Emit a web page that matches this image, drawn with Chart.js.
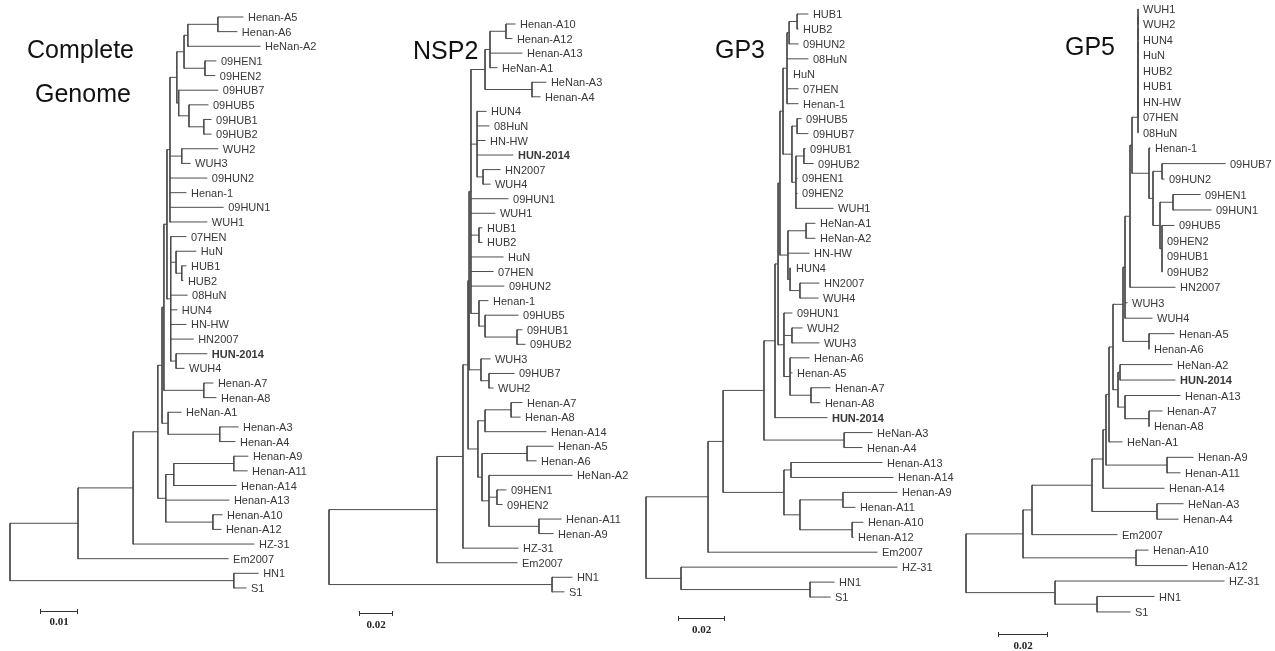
<!DOCTYPE html>
<html>
<head>
<meta charset="utf-8">
<script src="https://cdn.jsdelivr.net/npm/chart.js@4.4.1/dist/chart.umd.min.js"></script>
<style>
html,body{margin:0;padding:0;background:#fff;}
#wrap{position:relative;width:1275px;height:651px;}
canvas{display:block;}
</style>
</head>
<body>
<div id="wrap"><canvas id="c" width="1275" height="651"></canvas></div>
<script>
// ===================== DATA =====================
// Panel titles
const panelTitles = [["Complete", "Genome"], ["NSP2"], ["GP3"], ["GP5"]];
// Scale bar lengths (substitutions per site) and their labels
const scaleBarLengths = [0.01, 0.02, 0.02, 0.02];
const scaleBarLabels = ["0.01", "0.02", "0.02", "0.02"];
// Strain shown in bold
const highlightStrain = "HUN-2014";

// Trees: Newick-like strings, the number after ':' is the cumulative
// distance of the node from the root (substitutions per site).
const treeCompleteGenome = `
(
 (
  (
   (
    (
     (
      (
       (
        (
         (((Henan-A5:0.0613,Henan-A6:0.0597):0.0547,HeNan-A2:0.0658):0.0468,(09HEN1:0.0542,09HEN2:0.0539):0.0513):0.0458,
         (09HUB7:0.0547,(09HUB5:0.0521,(09HUB1:0.0529,09HUB2:0.0529):0.0510):0.0471):0.0444
        ):0.0439,
        (WUH2:0.0547,WUH3:0.0474):0.0452,09HUN2:0.0518,Henan-1:0.0463,09HUN1:0.0561,WUH1:0.0518
       ):0.0421,
       (07HEN:0.0463,(HuN:0.0489,(HUB1:0.0463,HUB2:0.0455):0.0452):0.0437,08HuN:0.0466,HUN4:0.0439,HN-HW:0.0463,HN2007:0.0482,(HUN-2014:0.0518,WUH4:0.0458):0.0437):0.0423
      ):0.0413,
      (Henan-A7:0.0534,Henan-A8:0.0542):0.0510
     ):0.0405,
     (HeNan-A1:0.0450,(Henan-A3:0.0600,Henan-A4:0.0592):0.0552):0.0416
    ):0.0400,
    (((Henan-A9:0.0626,Henan-A11:0.0624):0.0589,Henan-A14:0.0595):0.0431,Henan-A13:0.0576,(Henan-A10:0.0558,Henan-A12:0.0555):0.0534):0.0410
   ):0.0389,
   HZ-31:0.0642
  ):0.0324,
  Em2007:0.0574
 ):0.0179,
 (HN1:0.0653,S1:0.0621):0.0589
)`;

const treeNSP2 = `
(
 (
  (
   (
    (
     (
      (((Henan-A10:0.1094,Henan-A12:0.1076):0.1041,Henan-A13:0.1135,HeNan-A1:0.0988):0.0947,(HeNan-A3:0.1276,Henan-A4:0.1241):0.1194):0.0918,
      (HUN4:0.0924,08HuN:0.0941,HN-HW:0.0918,HUN-2014:0.1082,(HN2007:0.1006,WUH4:0.0947):0.0906):0.0871,
      09HUN1:0.1053,WUH1:0.0976,(HUB1:0.0900,HUB2:0.0900):0.0882,HuN:0.1024,07HEN:0.0965,09HUN2:0.1029,
      (Henan-1:0.0935,(09HUB5:0.1112,(09HUB1:0.1135,09HUB2:0.1153):0.1106):0.0918):0.0882
     ):0.0835,
     (WUH3:0.0947,(09HUB7:0.1088,WUH2:0.0965):0.0941):0.0894
    ):0.0824,
    (((Henan-A7:0.1135,Henan-A8:0.1124):0.1071,Henan-A14:0.1276):0.0918,((Henan-A5:0.1318,Henan-A6:0.1218):0.1165,(HeNan-A2:0.1429,(09HEN1:0.1041,09HEN2:0.1018):0.0988,(Henan-A11:0.1365,Henan-A9:0.1318):0.1235):0.0941):0.0900):0.0876
   ):0.0818,
   HZ-31:0.1112
  ):0.0788,
  Em2007:0.1106
 ):0.0635,
 (HN1:0.1429,S1:0.1382):0.1312
)`;

const treeGP3 = `
(
 (
  (
   (
    (
     (
      (
       (
        (((HUB1:0.0689,HUB2:0.0647):0.0643,09HUN2:0.0647):0.0609,08HuN:0.0689,HuN:0.0604,07HEN:0.0647,Henan-1:0.0647):0.0600,
        ((09HUB5:0.0660,09HUB7:0.0689):0.0643,((09HUB1:0.0677,09HUB2:0.0711):0.0672,09HEN1:0.0643,09HEN2:0.0643,WUH1:0.0796):0.0638):0.0621
       ):0.0583,
       ((HeNan-A1:0.0719,HeNan-A2:0.0719):0.0681,HN-HW:0.0694,(HUN4:0.0617,(HN2007:0.0736,WUH4:0.0732):0.0655):0.0613):0.0604
      ):0.0570,
      (09HUN1:0.0621,(WUH2:0.0664,WUH3:0.0736):0.0621,(Henan-A6:0.0694,Henan-A5:0.0621,(Henan-A7:0.0783,Henan-A8:0.0740):0.0702):0.0613):0.0587
     ):0.0562,
     HUN-2014:0.0770
    ):0.0549,
    (HeNan-A3:0.0962,Henan-A4:0.0919):0.0843
   ):0.0502,
   ((Henan-A13:0.1004,Henan-A14:0.1051):0.0617,((Henan-A9:0.1068,Henan-A11:0.0889):0.0838,(Henan-A10:0.0923,Henan-A12:0.0881):0.0877):0.0655):0.0587
  ):0.0328,
  Em2007:0.0983
 ):0.0264,
 (HZ-31:0.1068,(HN1:0.0800,S1:0.0783):0.0698):0.0149
)`;

const treeGP5 = `
(
 (
  (
   (
    (
     (
      (
       (
        (
         (
          (
           (
            ((((((((WUH1:0.0688,WUH2:0.0688):0.0688,HUN4:0.0688):0.0688,HuN:0.0688):0.0688,HUB2:0.0688):0.0688,HUB1:0.0688):0.0688,HN-HW:0.0688):0.0688,07HEN:0.0688):0.0688,08HuN:0.0688):0.0688,
            (Henan-1:0.0736,((09HUB7:0.1036,09HUN2:0.0792):0.0784,((09HEN1:0.0936,09HUN1:0.0980):0.0828,(09HUB5:0.0832,09HEN2:0.0784,09HUB1:0.0784,09HUB2:0.0784):0.0784):0.0776):0.0748):0.0732
           ):0.0664,
           HN2007:0.0836
          ):0.0656,
          WUH3:0.0644,
          WUH4:0.0744
         ):0.0636,
         (Henan-A5:0.0832,Henan-A6:0.0732):0.0732
        ):0.0628,
        ((HeNan-A2:0.0824,HUN-2014:0.0836):0.0616,(Henan-A13:0.0856,(Henan-A7:0.0784,Henan-A8:0.0732):0.0732):0.0636):0.0608
       ):0.0588,
       HeNan-A1:0.0624
      ):0.0572,
      (Henan-A9:0.0908,Henan-A11:0.0856):0.0804
     ):0.0560,
     Henan-A14:0.0792
    ):0.0548,
    (HeNan-A3:0.0868,Henan-A4:0.0848):0.0764
   ):0.0504,
   Em2007:0.0604
  ):0.0264,
  (Henan-A10:0.0728,Henan-A12:0.0884):0.0680
 ):0.0228,
 (HZ-31:0.1032,(HN1:0.0752,S1:0.0656):0.0524):0.0356
)`;

// ===================== LAYOUT (pixels) =====================
const W = 1275, H = 651;
const layout = [
  {rootX: 10,  ppu: 3800, firstLeafY: 17, leafStep: 14.64, bar: {x: 40,  y: 611, labelY: 622},
   titles: [{x: 27, y: 58}, {x: 35, y: 102}]},
  {rootX: 329, ppu: 1700, firstLeafY: 24, leafStep: 14.56, bar: {x: 359, y: 613, labelY: 625},
   titles: [{x: 413, y: 59}]},
  {rootX: 646, ppu: 2350, firstLeafY: 14, leafStep: 14.95, bar: {x: 678, y: 618, labelY: 630},
   titles: [{x: 715, y: 58}]},
  {rootX: 966, ppu: 2500, firstLeafY: 9,  leafStep: 15.46, bar: {x: 998, y: 634, labelY: 646},
   titles: [{x: 1065, y: 55}]}
];
const lineColor = '#4d4d4d';
const labelColor = '#383838';
const labelFont = '11px "Liberation Sans", Arial, sans-serif';

// ===================== TREE HELPERS =====================
function parseNewick(str) {
  const s = str.replace(/\s+/g, '');
  let i = 0;
  function readNode() {
    const n = {name: '', d: 0, children: []};
    if (s[i] === '(') {
      i++;
      n.children.push(readNode());
      while (s[i] === ',') { i++; n.children.push(readNode()); }
      i++; // ')'
    } else {
      const st = i;
      while (i < s.length && ':,()'.indexOf(s[i]) < 0) i++;
      n.name = s.slice(st, i);
    }
    if (s[i] === ':') {
      i++;
      const st = i;
      while (i < s.length && ',()'.indexOf(s[i]) < 0) i++;
      n.d = parseFloat(s.slice(st, i));
    }
    return n;
  }
  return readNode();
}

function layoutTree(root) {
  const leaves = [], segs = [];
  (function place(n) {
    if (!n.children.length) { n.y = leaves.length; leaves.push(n); return; }
    n.children.forEach(place);
    n.y = (n.children[0].y + n.children[n.children.length - 1].y) / 2;
  })(root);
  (function walk(n) {
    if (!n.children.length) return;
    const f = n.children[0], l = n.children[n.children.length - 1];
    segs.push([[n.d, f.y], [n.d, l.y]]);
    n.children.forEach(c => {
      if (c.d > n.d) segs.push([[n.d, c.y], [c.d, c.y]]);
      walk(c);
    });
  })(root);
  return {leaves, segs};
}

const trees = [treeCompleteGenome, treeNSP2, treeGP3, treeGP5];
const panels = trees.map(t => layoutTree(parseNewick(t)));

// ===================== CHART =====================
const datasets = [];
panels.forEach((p, k) => {
  p.segs.forEach(s => {
    datasets.push({
      data: [{x: s[0][0], y: s[0][1]}, {x: s[1][0], y: s[1][1]}],
      xAxisID: 'x' + k, yAxisID: 'y' + k,
      showLine: true, fill: false,
      borderColor: lineColor, borderWidth: 1, borderCapStyle: 'square',
      pointRadius: 0, pointHoverRadius: 0, tension: 0
    });
  });
});

const scales = {};
layout.forEach((L, k) => {
  scales['x' + k] = {type: 'linear', axis: 'x', display: false,
    min: -L.rootX / L.ppu, max: (W - L.rootX) / L.ppu};
  scales['y' + k] = {type: 'linear', axis: 'y', display: false, reverse: true,
    min: -L.firstLeafY / L.leafStep, max: (H - L.firstLeafY) / L.leafStep};
});

const treeTextPlugin = {
  id: 'treeText',
  afterDatasetsDraw(chart) {
    const ctx = chart.ctx;
    ctx.save();
    panels.forEach((p, k) => {
      const xs = chart.scales['x' + k], ys = chart.scales['y' + k];
      const L = layout[k];
      // leaf labels
      ctx.fillStyle = labelColor;
      ctx.textAlign = 'left';
      ctx.textBaseline = 'middle';
      p.leaves.forEach(leaf => {
        ctx.font = (leaf.name === highlightStrain ? 'bold ' : '') + labelFont;
        ctx.fillText(leaf.name, xs.getPixelForValue(leaf.d) + 5, ys.getPixelForValue(leaf.y) + 1);
      });
      // scale bar
      const len = xs.getPixelForValue(scaleBarLengths[k]) - xs.getPixelForValue(0);
      const x0 = L.bar.x, x1 = x0 + len, yb = L.bar.y + 0.5;
      ctx.strokeStyle = '#333';
      ctx.lineWidth = 1;
      ctx.beginPath();
      ctx.moveTo(x0, yb); ctx.lineTo(x1, yb);
      ctx.moveTo(x0 + 0.5, yb - 2.5); ctx.lineTo(x0 + 0.5, yb + 2.5);
      ctx.moveTo(x1 - 0.5, yb - 2.5); ctx.lineTo(x1 - 0.5, yb + 2.5);
      ctx.stroke();
      ctx.fillStyle = '#222';
      ctx.font = 'bold 11px "Liberation Serif", "Times New Roman", serif';
      ctx.textAlign = 'center';
      ctx.fillText(scaleBarLabels[k], (x0 + x1) / 2, L.bar.labelY);
      // titles
      ctx.fillStyle = '#111';
      ctx.textAlign = 'left';
      ctx.textBaseline = 'alphabetic';
      ctx.font = '25px "Liberation Sans", Arial, sans-serif';
      panelTitles[k].forEach((t, j) => {
        const pos = L.titles[j];
        ctx.fillText(t, pos.x, pos.y);
      });
    });
    ctx.restore();
  }
};

new Chart(document.getElementById('c'), {
  type: 'scatter',
  data: {datasets},
  options: {
    responsive: false,
    devicePixelRatio: 1,
    animation: false,
    events: [],
    layout: {padding: 0, autoPadding: false},
    plugins: {legend: {display: false}, tooltip: {enabled: false}, title: {display: false}},
    scales
  },
  plugins: [treeTextPlugin]
});
</script>
</body>
</html>
